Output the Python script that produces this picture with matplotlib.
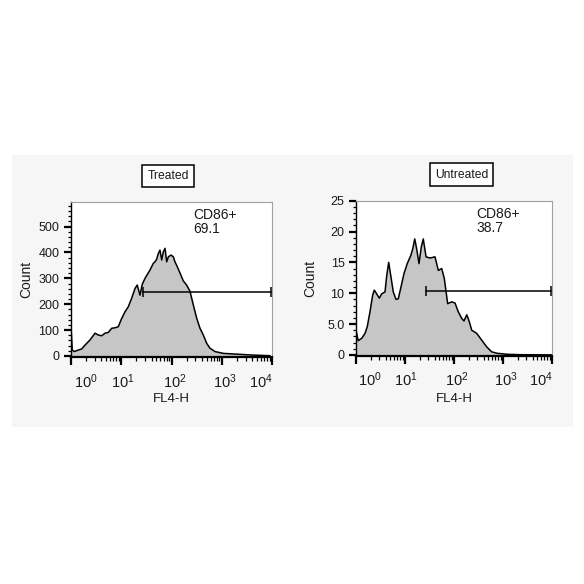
import matplotlib
matplotlib.use("Agg")
import matplotlib.pyplot as plt
from matplotlib.patches import Rectangle
from matplotlib.ticker import FixedLocator, NullFormatter
import matplotlib.transforms as mtransforms

plt.rcParams['font.family'] = ['Liberation Sans', 'DejaVu Sans']
plt.rcParams['mathtext.fontset'] = 'custom'
plt.rcParams['mathtext.rm'] = 'Liberation Sans'
plt.rcParams['mathtext.it'] = 'Liberation Sans'

# ---------------- data ----------------
treated_x = [1.0, 1.06, 1.16, 1.40, 1.63, 1.90, 2.39, 3.01, 3.49, 4.08, 4.75, 5.52,
             6.46, 7.52, 8.73, 10.2, 11.9, 13.8, 16.1, 18.8, 20.8, 23.6, 26.2, 29.7,
             37.3, 43.5, 47.0, 50.7, 54.7, 59.0, 63.8, 68.9, 74.3, 80.2, 86.5, 97.7,
             109, 117, 127, 148, 172, 200, 233, 272, 317, 369, 430, 501, 583, 735,
             1074, 1986, 3648, 9120]
treated_y = [113, 23, 17, 23, 27, 42, 62, 88, 81, 78, 88, 91,
             107, 109, 113, 145, 171, 190, 223, 261, 274, 235, 277, 300,
             332, 358, 364, 374, 396, 409, 371, 403, 416, 364, 383, 390,
             383, 364, 350, 320, 290, 274, 250, 197, 146, 107, 81, 49, 30, 17,
             10, 7, 4, 1]

untreated_x = [1.0, 1.11, 1.31, 1.53, 1.70, 1.93, 2.19, 2.36, 2.64, 2.99, 3.34, 3.91,
               4.24, 4.65, 5.11, 5.77, 6.55, 7.29, 8.17, 9.55, 11.1, 13.1, 14.4, 15.8,
               17.3, 19.3, 21.5, 23.6, 26.9, 32.4, 40.9, 47.9, 56.1, 63.4, 74.3, 89.7,
               105, 122, 144, 160, 182, 205, 230, 290, 367, 465, 587, 743, 1191, 2223,
               10000]
untreated_y = [4.0, 2.3, 2.7, 3.5, 4.6, 7.0, 9.7, 10.5, 9.9, 9.2, 9.9, 10.2,
               12.9, 15.0, 12.9, 10.2, 9.0, 9.1, 10.8, 13.2, 14.8, 16.1, 17.2, 18.8,
               17.2, 14.8, 17.5, 18.8, 15.9, 15.7, 15.9, 13.7, 14.0, 12.4, 8.3, 8.6,
               8.4, 7.0, 5.9, 5.5, 6.5, 5.4, 4.0, 3.5, 2.4, 1.3, 0.5, 0.27, 0.1, 0.03,
               0.0]

titles = ["Treated", "Untreated"]
gate_name = "CD86+"
gate_pct = ["69.1", "38.7"]
gate_start = 27
gate_end = 9500
gate_level = [248, 10.4]

x_decades = [1, 10, 100, 1000, 10000]
x_tick_labels = ["$10^{0}$", "$10^{1}$", "$10^{2}$", "$10^{3}$", "$10^{4}$"]
x_minor = [m * d for d in [1, 10, 100, 1000] for m in range(2, 10)]

treated_yticks = [0, 100, 200, 300, 400, 500]
treated_ylabels = ["0", "100", "200", "300", "400", "500"]
treated_yminor = list(range(0, 600, 20))
untreated_yticks = [0, 5, 10, 15, 20, 25]
untreated_ylabels = ["0", "5.0", "10", "15", "20", "25"]
untreated_yminor = list(range(0, 26, 1))

xlabel = "FL4-H"
ylabel = "Count"

# ---------------- figure ----------------
fig = plt.figure(figsize=(5.84, 5.84), dpi=100)
fig.patch.set_facecolor('white')
fig.add_artist(Rectangle((12 / 584, (584 - 427) / 584), (573 - 12) / 584, (427 - 155) / 584,
                         transform=fig.transFigure, facecolor='#f6f6f6',
                         edgecolor='none', zorder=-10))

ax_specs = [
    dict(rect=[71 / 584, (584 - 357) / 584, 201 / 584, 155 / 584],
         xs=treated_x, ys=treated_y, ylim=(-4, 595),
         yt=treated_yticks, yl=treated_ylabels, ym=treated_yminor,
         title_pos=(0.483, 1.168), text_pos=(0.608, 0.918, 0.826),
         ylab_x=-0.19, xlab_y=-0.232),
    dict(rect=[356 / 584, (584 - 355.5) / 584, 196 / 584, 154.8 / 584],
         xs=untreated_x, ys=untreated_y, ylim=(-0.1, 25.0),
         yt=untreated_yticks, yl=untreated_ylabels, ym=untreated_yminor,
         title_pos=(0.538, 1.169), text_pos=(0.616, 0.915, 0.822),
         ylab_x=-0.2, xlab_y=-0.242),
]

label_shift = [0.29, 0.025, 0.06, 0.06, -0.22]  # label placement within decades
txt = '#1a1a1a'

for i, spec in enumerate(ax_specs):
    ax = fig.add_axes(spec['rect'])
    ax.set_facecolor('white')
    ax.set_xscale('log')
    ax.set_xlim(1, 1e4)
    ax.set_ylim(*spec['ylim'])

    ax.fill_between(spec['xs'], spec['ys'], spec['ylim'][0], facecolor='#c6c6c6',
                    edgecolor='none', zorder=1)
    ax.plot(spec['xs'], spec['ys'], color='black', lw=1.1, zorder=2)

    # gate
    ax.plot([gate_start, gate_end], [gate_level[i], gate_level[i]], color='black',
            lw=1.1, marker='|', markersize=7, markeredgewidth=1.1, zorder=3)
    tx, ty1, ty2 = spec['text_pos']
    ax.text(tx, ty1, gate_name, transform=ax.transAxes, fontsize=10,
            ha='left', va='center', color=txt)
    ax.text(tx, ty2, gate_pct[i], transform=ax.transAxes, fontsize=10,
            ha='left', va='center', color=txt)

    # title box
    ax.text(spec['title_pos'][0], spec['title_pos'][1], titles[i], transform=ax.transAxes,
            fontsize=8.7, ha='center', va='center', color=txt,
            bbox=dict(boxstyle='square,pad=0.42', facecolor='white', edgecolor='black', lw=1.1))

    # spines
    for s in ['top', 'right']:
        ax.spines[s].set_color('#a0a0a0')
        ax.spines[s].set_linewidth(0.8)
    ax.spines['left'].set_color('black')
    ax.spines['left'].set_linewidth(1.0)
    ax.spines['bottom'].set_color('black')
    ax.spines['bottom'].set_linewidth(1.6)

    # x ticks
    ax.xaxis.set_major_locator(FixedLocator(x_decades))
    ax.xaxis.set_minor_locator(FixedLocator(x_minor))
    ax.xaxis.set_major_formatter(NullFormatter())
    ax.xaxis.set_minor_formatter(NullFormatter())
    ax.tick_params(axis='x', which='major', direction='out', length=5.5, width=1.6, color='black')
    ax.tick_params(axis='x', which='minor', direction='out', length=2.6, width=0.9, color='black')
    trans = mtransforms.blended_transform_factory(ax.transData, ax.transAxes)
    for d, lab, sh in zip(x_decades, x_tick_labels, label_shift):
        ax.text(d * 10 ** sh, -0.2, lab, transform=trans, fontsize=10.5,
                ha='center', va='baseline', color=txt)

    # y ticks
    ax.yaxis.set_major_locator(FixedLocator(spec['yt']))
    ax.set_yticklabels(spec['yl'])
    ax.yaxis.set_minor_locator(FixedLocator(spec['ym']))
    ax.tick_params(axis='y', which='major', direction='out', length=5.3, width=1.6,
                   color='black', labelsize=9, pad=3, labelcolor=txt)
    ax.tick_params(axis='y', which='minor', direction='out', length=2.4, width=0.9, color='black')

    ax.set_xlabel(xlabel, fontsize=9.5, color=txt)
    ax.xaxis.set_label_coords(0.5, spec['xlab_y'])
    ax.xaxis.label.set_verticalalignment('top')
    ax.set_ylabel(ylabel, fontsize=10, color=txt)
    ax.yaxis.set_label_coords(spec['ylab_x'], 0.5)

fig.savefig('out.png', dpi=100, facecolor=fig.get_facecolor())
